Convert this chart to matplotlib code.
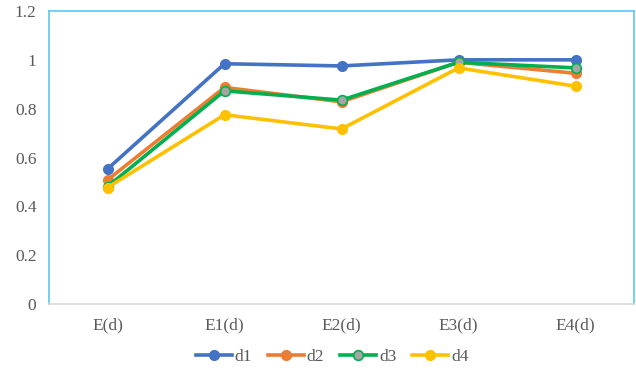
import matplotlib.pyplot as plt
import numpy as np

plt.rcParams['font.family'] = ['Liberation Serif', 'DejaVu Serif']

categorias = ['E(d)', 'E1(d)', 'E2(d)', 'E3(d)', 'E4(d)']
d1 = [0.553, 0.984, 0.975, 1.0, 1.0]
d2 = [0.508, 0.887, 0.828, 0.99, 0.945]
d3 = [0.481, 0.873, 0.835, 0.99, 0.967]
d4 = [0.477, 0.775, 0.717, 0.967, 0.892]

fig = plt.figure(figsize=(6.36, 3.7), dpi=100)
ax = fig.add_axes([49 / 636, 1 - 304 / 370, 585 / 636, 293 / 370])

x = np.arange(len(categorias))
ax.plot(x, d1, color='#4472C4', lw=2.6, marker='o', ms=7, label='d1')
ax.plot(x, d2, color='#ED7D31', lw=2.6, marker='o', ms=7, label='d2')
ax.plot(x, d3, color='#00B050', lw=2.6, marker='o', ms=7,
        mfc='#A5A5A5', mec='#00B050', mew=1.2, label='d3')
ax.plot(x, d4, color='#FFC000', lw=2.6, marker='o', ms=7, label='d4')

ax.set_xlim(-0.5, 4.5)
ax.set_ylim(0, 1.2)
ax.set_xticks(x)
ax.set_xticklabels(categorias)
ax.set_yticks([0, 0.2, 0.4, 0.6, 0.8, 1.0, 1.2])
ax.set_yticklabels(['0', '0.2', '0.4', '0.6', '0.8', '1', '1.2'])
ax.tick_params(length=0, labelsize=12.5, colors='#595959', pad=9)
ax.tick_params(axis='x', pad=10)

# borde del área de trazado
for lado in ['left', 'top', 'right']:
    ax.spines[lado].set_color('#5BC8F0')
    ax.spines[lado].set_linewidth(1.2)
ax.spines['bottom'].set_color('#D9D9D9')
ax.spines['bottom'].set_linewidth(1.2)

fig.legend(loc='center', bbox_to_anchor=(332 / 636, 1 - 357 / 370), ncol=4,
           frameon=False, fontsize=12.5, handlelength=2.1, columnspacing=0.9,
           handletextpad=0.15, labelcolor='#595959')

plt.savefig('out.png')
